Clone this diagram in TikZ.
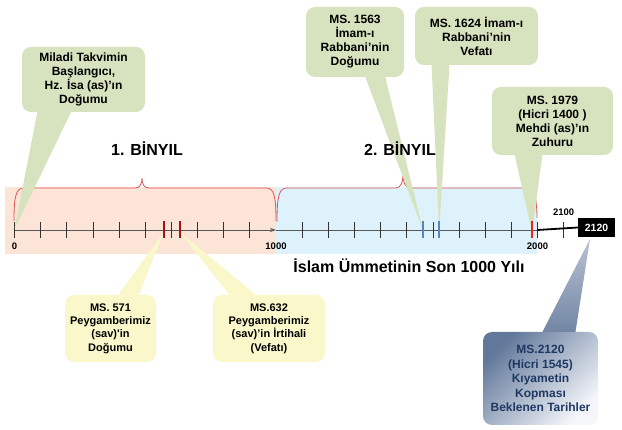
\documentclass[tikz,border=0pt]{standalone}
\usepackage{fontspec}
\setmainfont{Liberation Sans}
\usepackage{xcolor}
\usepackage{tikz}
\usetikzlibrary{arrows.meta, positioning, calc}

\definecolor{notegreen}{RGB}{215,227,190}
\definecolor{noteyellow}{RGB}{250,248,202}
\definecolor{notebluedark}{RGB}{98,120,154}
\definecolor{notebluelight}{RGB}{244,246,250}
\definecolor{eraone}{RGB}{252,228,214}
\definecolor{eratwo}{RGB}{221,242,250}
\definecolor{bracered}{RGB}{222,84,84}
\definecolor{markred}{RGB}{165,20,20}
\definecolor{markblue}{RGB}{85,135,200}
\definecolor{markbright}{RGB}{232,40,30}
\definecolor{navytext}{RGB}{31,56,100}

\begin{document}
\begin{tikzpicture}[
    x=1pt, y=-1pt,
    note/.style={rectangle, rounded corners=9pt, align=center, inner sep=2pt, font=\fontsize{12}{14}\selectfont\bfseries},
    greennote/.style={note, fill=notegreen},
    yellownote/.style={note, fill=noteyellow, font=\fontsize{11}{13.3}\selectfont\bfseries},
    bluenote/.style={note, top color=notebluedark, bottom color=notebluelight, shading angle=45, text=navytext, font=\fontsize{12}{14.5}\selectfont\bfseries},
    era/.style={font=\fontsize{16}{18}\selectfont\bfseries, inner sep=0pt},
    yearlabel/.style={font=\fontsize{9.5}{11}\selectfont\bfseries, inner sep=0pt},
    axis/.style={black!65, line width=0.9pt},
    tick/.style={black!80, line width=0.8pt},
    brace/.style={bracered, line width=0.8pt},
    yearmark/.style={line width=2pt}
]
\useasboundingbox (0,0) rectangle (622,430);

% the two millennia
\fill[eraone] (5,187) rectangle (276,254);
\fill[eratwo] (276,187) rectangle (537,254);

\draw[brace] (14,221) .. controls (14,196) and (16,188) .. (24,188) -- (135,188)
  .. controls (140,188) and (142,184) .. (142,178) .. controls (142,184) and (144,188) .. (149,188)
  -- (266,188) .. controls (274,188) and (276,196) .. (276,221);
\draw[brace] (277,222) .. controls (277,196) and (279,188) .. (287,188) -- (396,188)
  .. controls (401,188) and (403,182) .. (403,173) .. controls (403,182) and (405,188) .. (410,188)
  -- (528,188) .. controls (534,188) and (537,200) .. (537,218);

% time axis, one unit = one year
\begin{scope}[shift={(14.5,0)}, x=0.2615pt]
  \coordinate (y0) at (0,230);
  \coordinate (y1000) at (1000,230);
  \coordinate (y2000) at (2000,230);
  \coordinate (t0) at (0,229);
  \coordinate (t571) at (571,232);
  \coordinate (t632) at (632,232);
  \coordinate (t1563) at (1563,231);
  \coordinate (t1624) at (1624,231);
  \coordinate (t1979) at (1979,232);

  \draw[axis, -{Stealth[length=6pt, width=4pt]}] (y0) -- (y1000);
  \draw[axis] (y1000) -- (y2000);
  \foreach \yr in {0,100,...,900,1100,1200,...,2100}
    \draw[tick] (\yr,222) -- (\yr,238);

  \node[yearlabel] (l0) at (0,246) {0};
  \node[yearlabel] (l1000) at (1000,246) {1000};
  \node[yearlabel] (l2000) at (2000,246) {2000};
  \node[yearlabel] (l2100) at (2100,212) {2100};
\end{scope}

\node[fill=black, text=white, font=\fontsize{10.5}{12}\selectfont\bfseries, minimum width=37pt, minimum height=19pt, inner sep=0pt] (y2120) at (596.5,227.5) {2120};
\draw[line width=1.8pt] (y2000) -- (y2120.west);
\coordinate (t2120) at (590,239);

% notes
\node[greennote, minimum width=123pt, minimum height=65pt] (isa) at (83.5,79.5) {Miladi Takvimin\\Başlangıcı,\\Hz. İsa (as)’ın\\Doğumu};
\node[greennote, minimum width=98pt, minimum height=70pt] (imambirth) at (355,42) {MS. 1563\\İmam-ı\\Rabbani’nin\\Doğumu};
\node[greennote, minimum width=123pt, minimum height=58pt] (imamdeath) at (476.5,36) {MS. 1624 İmam-ı\\Rabbani’nin\\Vefatı};
\node[greennote, minimum width=121pt, minimum height=68pt] (mehdi) at (552.5,121) {MS. 1979\\(Hicri 1400 )\\Mehdi (as)’ın\\Zuhuru};
\node[yellownote, minimum width=91pt, minimum height=67pt] (prophetbirth) at (110.5,328.5) {MS. 571\\Peygamberimiz\\(sav)\textquotesingle in\\Doğumu};
\node[yellownote, minimum width=112pt, minimum height=67pt] (prophetdeath) at (269,328.5) {MS.632\\Peygamberimiz\\(sav)’in İrtihali\\(Vefatı)};
\node[bluenote, minimum width=115pt, minimum height=93pt] (doom) at (540.5,378.5) {MS.2120\\(Hicri 1545)\\Kıyametin\\Kopması\\Beklenen Tarihler};

% pointers
\fill[notegreen] ($(isa.south)+(-46,-1)$) -- (t0) -- ($(isa.south)+(-12,-1)$) -- cycle;
\fill[notegreen] ($(imambirth.south)+(10,-1)$) -- (t1563) -- ($(imambirth.south)+(30,-1)$) -- cycle;
\fill[notegreen] ($(imamdeath.south)+(-45,-1)$) -- (t1624) -- ($(imamdeath.south)+(-27,-1)$) -- cycle;
\fill[notegreen] ($(mehdi.south)+(-38,-1)$) -- (t1979) -- ($(mehdi.south)+(-10,-1)$) -- cycle;
\fill[noteyellow] ($(prophetbirth.north)+(7,1)$) -- (t571) -- ($(prophetbirth.north)+(28,1)$) -- cycle;
\fill[noteyellow] ($(prophetdeath.north)+(-39,1)$) -- (t632) -- ($(prophetdeath.north)+(-12,1)$) -- cycle;
\shade[top color=notebluedark!45, bottom color=notebluedark!90] ($(doom.north)+(2,0)$) -- (t2120) -- ($(doom.north)+(35,0)$) -- cycle;

% year marks
\begin{scope}[shift={(14.5,0)}, x=0.2615pt]
  \draw[yearmark, markred] (571,221) -- (571,238);
  \draw[yearmark, markred] (632,221) -- (632,238);
  \draw[yearmark, markblue] (1563,221) -- (1563,238);
  \draw[yearmark, markblue] (1624,221) -- (1624,238);
  \draw[yearmark, markbright] (1979,221) -- (1979,238);
\end{scope}

\node[era] (one) at (147,149) {1. BİNYIL};
\node[era] (two) at (400,149) {2. BİNYIL};
\node[era] (islam) at (409,266) {İslam Ümmetinin Son 1000 Yılı};

\end{tikzpicture}
\end{document}
